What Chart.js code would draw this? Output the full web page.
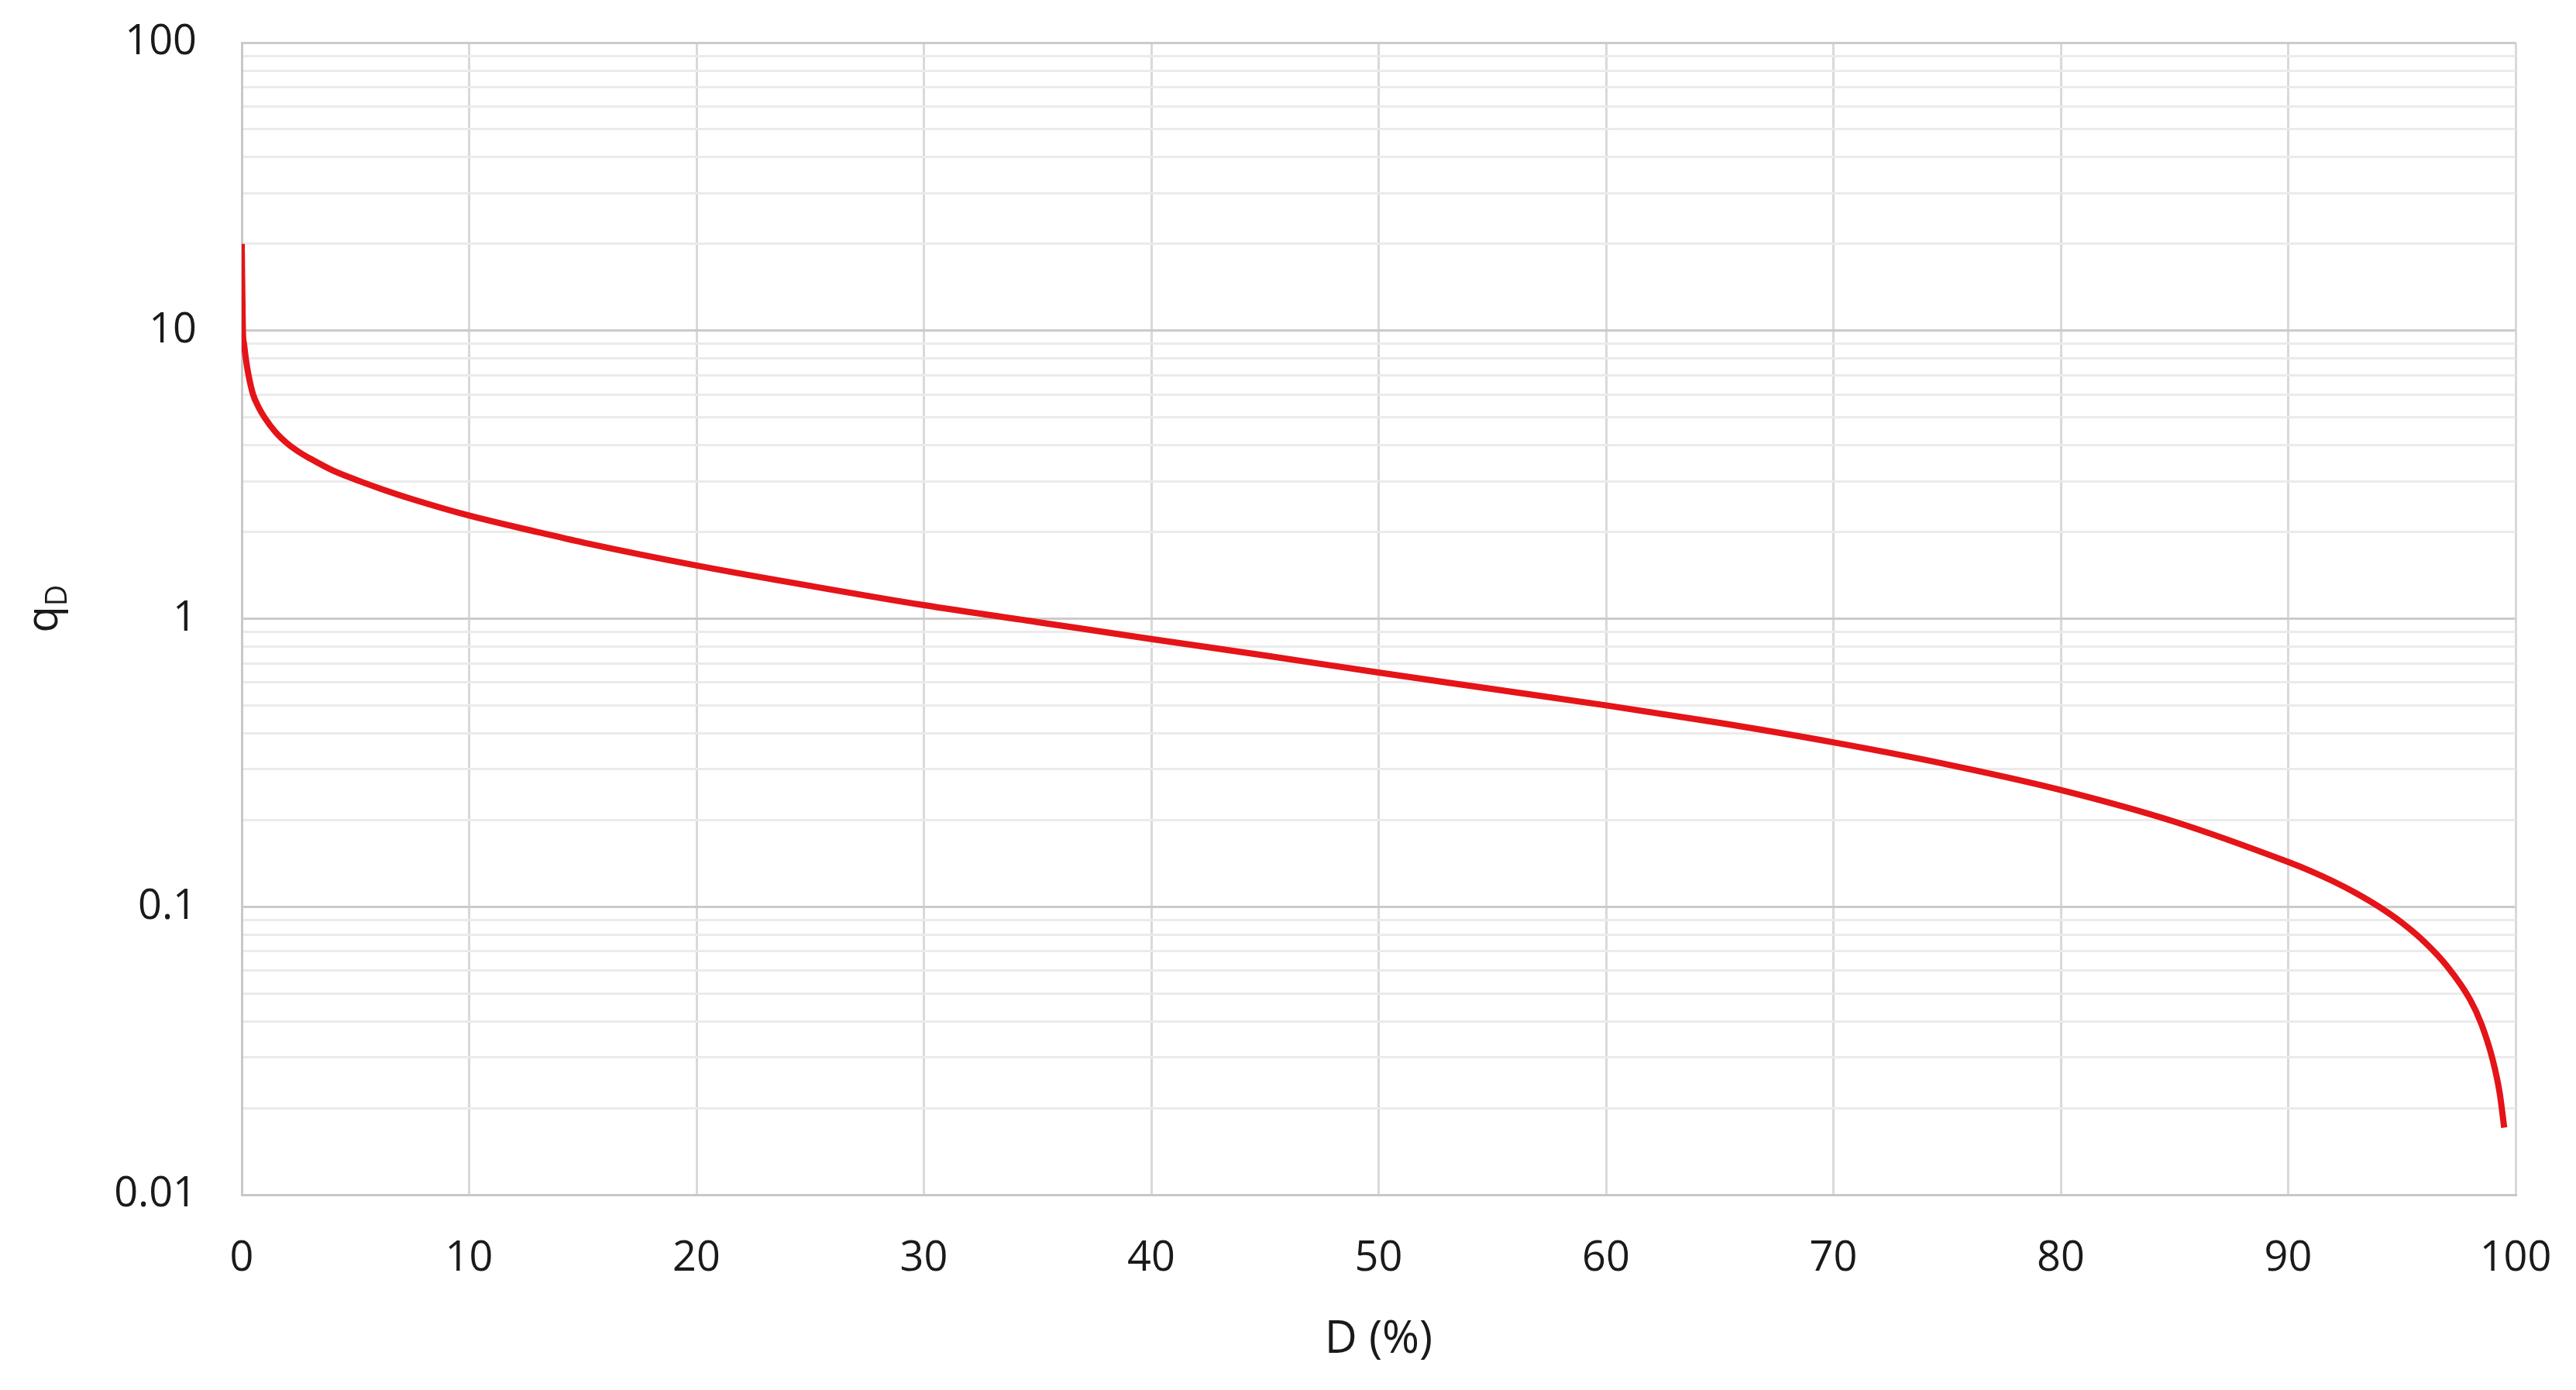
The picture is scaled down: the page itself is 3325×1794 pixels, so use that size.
<!DOCTYPE html>
<html>
<head>
<meta charset="utf-8">
<script src="https://cdn.jsdelivr.net/npm/chart.js@4.4.1/dist/chart.umd.min.js"></script>
<style>
html,body{margin:0;padding:0;background:#fff;}
#wrap{width:3325px;height:1794px;position:relative;}
</style>
</head>
<body>
<div id="wrap"><canvas id="c" width="3325" height="1794"></canvas></div>
<script>
// ---- data ----
const durationPct = [0, 0.05, 0.1, 0.18, 0.3, 0.5, 0.75, 1.0, 1.5, 2.0, 2.5, 3.0, 4.0, 5.2, 6.2, 7.5, 10, 13, 15, 20, 25, 30, 35, 40, 45, 50, 55, 60, 65, 70, 75, 80, 85, 90, 91, 92, 93, 94, 95, 96, 97, 98, 98.5, 99, 99.3, 99.5];
const qValues    = [20, 10, 9, 8, 7, 6, 5.41, 5.0, 4.43, 4.06, 3.80, 3.6, 3.27, 3.0, 2.81, 2.6, 2.28, 2.0, 1.84, 1.53, 1.30, 1.114, 0.973, 0.85, 0.745, 0.65, 0.57, 0.50, 0.4345, 0.372, 0.312, 0.2543, 0.1974, 0.143, 0.1329, 0.1223, 0.1113, 0.0999, 0.0880, 0.0754, 0.0620, 0.0476, 0.0391, 0.0293, 0.0226, 0.0171];
const xTickLabels = [0, 10, 20, 30, 40, 50, 60, 70, 80, 90, 100];
const yMajorTicks = [0.01, 0.1, 1, 10, 100];
const yMajorLabels = ['0.01', '0.1', '1', '10', '100'];
const yMinorMultipliers = [2, 3, 4, 5, 6, 7, 8, 9];
const xTitle = 'D (%)';
const yTitleMain = 'q';
const yTitleSub = 'D';

// build tick list for the log axis
const yAllTicks = [];
yMajorTicks.forEach((m, i) => {
  yAllTicks.push(m);
  if (i < yMajorTicks.length - 1) yMinorMultipliers.forEach(k => yAllTicks.push(+(m * k).toPrecision(6)));
});
const isMajorVal = v => yMajorTicks.some(m => Math.abs(m - v) < m * 1e-6);

const FONT = "'Open Sans', 'Liberation Sans', sans-serif";

const yTitlePlugin = {
  id: 'yTitle',
  afterDraw(chart) {
    const ctx = chart.ctx;
    const yScale = chart.scales.y;
    const cy = yScale.getPixelForValue(1);
    ctx.save();
    ctx.translate(62, cy);
    ctx.rotate(-Math.PI / 2);
    ctx.fillStyle = '#1a1a1a';
    ctx.font = '56px ' + FONT;
    const wq = ctx.measureText(yTitleMain).width;
    ctx.font = '38px ' + FONT;
    const wd = ctx.measureText(yTitleSub).width;
    const total = wq + wd;
    const x0 = -total / 2 + 13;
    ctx.textBaseline = 'alphabetic';
    ctx.font = '56px ' + FONT;
    ctx.fillText(yTitleMain, x0, 12);
    ctx.font = '38px ' + FONT;
    ctx.fillText(yTitleSub, x0 + wq, 24);
    ctx.restore();
  }
};

new Chart(document.getElementById('c'), {
  type: 'line',
  data: {
    datasets: [{
      data: durationPct.map((d, i) => ({x: d, y: qValues[i]})),
      borderColor: 'rgb(228,20,24)',
      borderWidth: 8,
      pointRadius: 0,
      cubicInterpolationMode: 'monotone',
      fill: false
    }]
  },
  options: {
    responsive: false,
    animation: false,
    devicePixelRatio: 1,
    layout: {padding: {left: 0, top: 55, right: 78, bottom: 30}},
    plugins: {legend: {display: false}, tooltip: {enabled: false}},
    scales: {
      x: {
        type: 'linear',
        min: 0, max: 100,
        afterBuildTicks: s => { s.ticks = xTickLabels.map(v => ({value: v})); },
        afterFit: s => { s.height = 222; s.paddingLeft = 0; s.paddingRight = 0; },
        grid: {color: '#d9d9d9', lineWidth: 3, drawTicks: false},
        border: {color: '#c8c8c8', width: 3},
        ticks: {color: '#1a1a1a', font: {family: FONT, size: 54}, padding: 50, maxRotation: 0, autoSkip: false},
        title: {display: true, text: xTitle, color: '#1a1a1a', font: {family: FONT, size: 58}, padding: {top: 10, bottom: 0}}
      },
      y: {
        type: 'logarithmic',
        min: 0.01, max: 100,
        afterBuildTicks: s => { s.ticks = yAllTicks.map(v => ({value: v, major: isMajorVal(v)})); },
        afterFit: s => { s.width = 312; s.paddingTop = 0; s.paddingBottom = 0; },
        grid: {
          color: c => isMajorVal(c.tick.value) ? '#cbcbcb' : '#ebebeb',
          lineWidth: 3, drawTicks: false
        },
        border: {color: '#c8c8c8', width: 3},
        ticks: {
          color: '#1a1a1a', font: {family: FONT, size: 54}, padding: 58, autoSkip: false,
          callback: v => { const i = yMajorTicks.findIndex(m => Math.abs(m - v) < m * 1e-6); return i >= 0 ? yMajorLabels[i] : ''; }
        },
        title: {display: false}
      }
    }
  },
  plugins: [yTitlePlugin]
});
</script>
</body>
</html>
